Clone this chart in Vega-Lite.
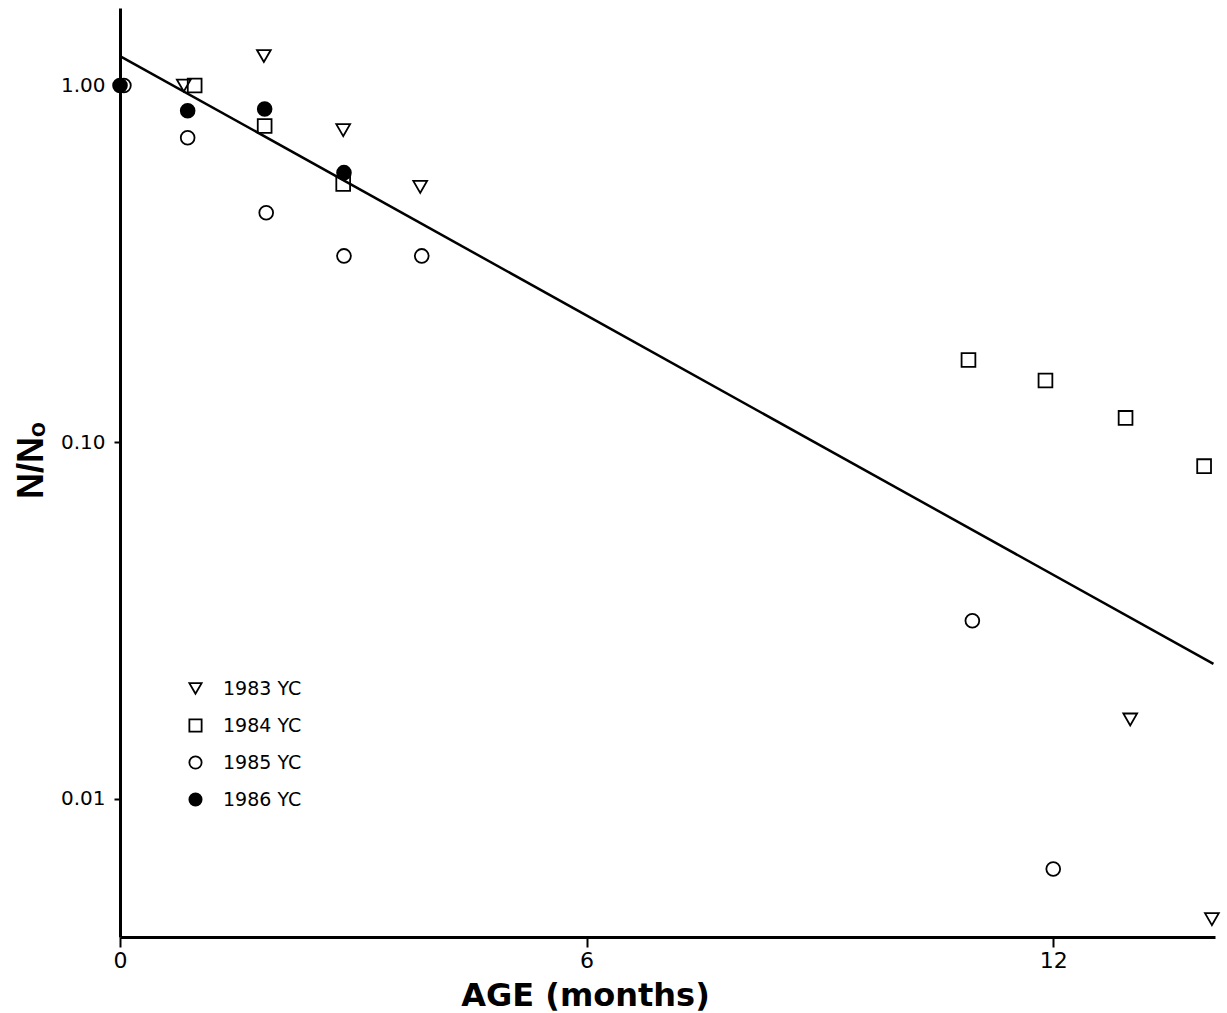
{
  "$schema": "https://vega.github.io/schema/vega-lite/v6.json",
  "autosize": "none",
  "width": 1095,
  "height": 929,
  "padding": {"left": 120, "top": 8, "right": 12, "bottom": 76},
  "background": "white",
  "config": {
    "view": {"stroke": null},
    "font": "Liberation Sans",
    "axis": {"grid": false, "domainColor": "black", "tickColor": "black", "labelColor": "black", "titleColor": "black", "domainWidth": 3, "tickWidth": 2}
  },
  "datasets": {
    "obs": [
      {"age": 0.82, "ratio": 1.0, "series": "1983 YC"},
      {"age": 1.85, "ratio": 1.21, "series": "1983 YC"},
      {"age": 2.87, "ratio": 0.75, "series": "1983 YC"},
      {"age": 3.86, "ratio": 0.52, "series": "1983 YC"},
      {"age": 12.99, "ratio": 0.0167, "series": "1983 YC"},
      {"age": 14.04, "ratio": 0.0046, "series": "1983 YC"},
      {"age": 0.96, "ratio": 1.0, "series": "1984 YC"},
      {"age": 1.86, "ratio": 0.77, "series": "1984 YC"},
      {"age": 2.87, "ratio": 0.53, "series": "1984 YC"},
      {"age": 10.91, "ratio": 0.17, "series": "1984 YC"},
      {"age": 11.9, "ratio": 0.149, "series": "1984 YC"},
      {"age": 12.93, "ratio": 0.117, "series": "1984 YC"},
      {"age": 13.94, "ratio": 0.0857, "series": "1984 YC"},
      {"age": 0.05, "ratio": 1.0, "series": "1985 YC"},
      {"age": 0.87, "ratio": 0.714, "series": "1985 YC"},
      {"age": 1.88, "ratio": 0.44, "series": "1985 YC"},
      {"age": 2.88, "ratio": 0.333, "series": "1985 YC"},
      {"age": 3.88, "ratio": 0.333, "series": "1985 YC"},
      {"age": 10.96, "ratio": 0.0316, "series": "1985 YC"},
      {"age": 12.0, "ratio": 0.00636, "series": "1985 YC"},
      {"age": 0.0, "ratio": 1.0, "series": "1986 YC"},
      {"age": 0.87, "ratio": 0.85, "series": "1986 YC"},
      {"age": 1.86, "ratio": 0.86, "series": "1986 YC"},
      {"age": 2.88, "ratio": 0.57, "series": "1986 YC"}
    ],
    "fit": [
      {"age": 0.0, "ratio": 1.21},
      {"age": 14.06, "ratio": 0.0239}
    ]
  },
  "layer": [
    {
      "data": {"name": "fit"},
      "mark": {"type": "line", "color": "black", "strokeWidth": 2.5},
      "encoding": {
        "x": {"field": "age", "type": "quantitative", "scale": {"domain": [0, 14.08], "nice": false, "zero": false},
          "axis": {"values": [0, 6, 12], "format": "d", "labelFlush": false, "title": "AGE (months)", "tickSize": 10, "labelFontSize": 22, "labelPadding": 3, "labelFont": "DejaVu Sans", "titleFont": "DejaVu Sans", "titleFontSize": 32, "titleFontWeight": "bold", "titleX": 465, "titleY": 68, "titleBaseline": "alphabetic", "titleAlign": "center"}},
        "y": {"field": "ratio", "type": "quantitative", "scale": {"type": "log", "domain": [0.0041, 1.65], "nice": false},
          "axis": {"values": [0.01, 0.1, 1], "format": ".2f", "labelFlush": false, "title": "N/Nₒ", "tickSize": 6, "labelFontSize": 20, "labelPadding": 9, "labelFont": "DejaVu Sans", "titleFontSize": 36, "titleFontWeight": "bold", "titleX": -70, "titleY": 452, "titleAngle": 270, "titleBaseline": "bottom", "titleAlign": "center"}}
      }
    },
    {
      "data": {"name": "obs"},
      "mark": {"type": "point", "strokeWidth": 1.8, "opacity": 1, "size": 190},
      "encoding": {
        "x": {"field": "age", "type": "quantitative"},
        "y": {"field": "ratio", "type": "quantitative"},
        "shape": {"field": "series", "type": "nominal", "scale": {"domain": ["1983 YC", "1984 YC", "1985 YC", "1986 YC"], "range": ["triangle-down", "square", "circle", "circle"]},
          "legend": {"title": null, "orient": "none", "legendX": 66, "legendY": 671, "symbolSize": 150, "symbolStrokeWidth": 1.8, "labelFontSize": 19, "labelFont": "DejaVu Sans", "labelColor": "black", "rowPadding": 16, "labelOffset": 18}},
        "fill": {"field": "series", "type": "nominal", "scale": {"domain": ["1983 YC", "1984 YC", "1985 YC", "1986 YC"], "range": ["transparent", "transparent", "transparent", "black"]},
          "legend": {"title": null, "orient": "none", "legendX": 66, "legendY": 671, "symbolSize": 150, "symbolStrokeWidth": 1.8, "labelFontSize": 19, "labelFont": "DejaVu Sans", "labelColor": "black", "rowPadding": 16, "labelOffset": 18}},
        "stroke": {"field": "series", "type": "nominal", "scale": {"domain": ["1983 YC", "1984 YC", "1985 YC", "1986 YC"], "range": ["black", "black", "black", "black"]},
          "legend": {"title": null, "orient": "none", "legendX": 66, "legendY": 671, "symbolSize": 150, "symbolStrokeWidth": 1.8, "labelFontSize": 19, "labelFont": "DejaVu Sans", "labelColor": "black", "rowPadding": 16, "labelOffset": 18}}
      }
    }
  ]
}
